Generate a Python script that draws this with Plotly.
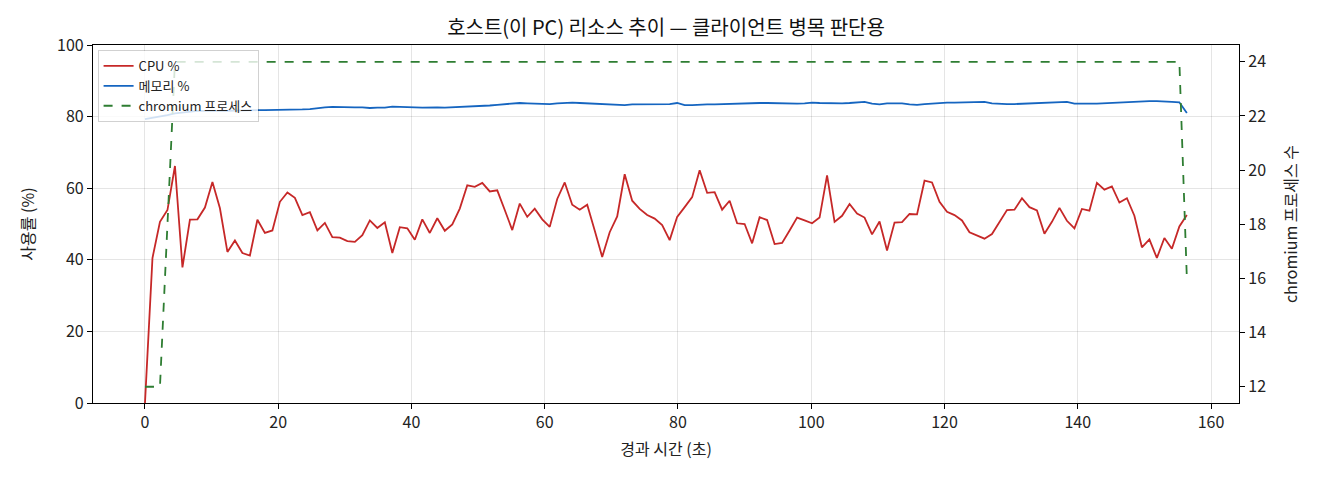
import plotly.graph_objects as go

# samples taken roughly every 1.125 s
SAMPLE_STEP = 1.125
elapsed = [round(i * SAMPLE_STEP, 3) for i in range(140)]

cpu_pct = [
    0, 40.5, 50.6, 53.9, 66.2, 37.9, 51.2, 51.3, 54.6, 61.7,
    54.4, 42.2, 45.4, 41.9, 41.2, 51.2, 47.5, 48.2, 56.2, 58.8,
    57.3, 52.5, 53.3, 48.2, 50.3, 46.3, 46.2, 45.2, 45.0, 46.9,
    51.0, 48.9, 50.5, 41.9, 49.1, 48.8, 45.6, 51.3, 47.5, 51.6,
    48.1, 49.9, 54.3, 60.8, 60.4, 61.5, 59.1, 59.4, 53.9, 48.3,
    55.7, 52.0, 54.3, 51.3, 49.2, 57.0, 61.6, 55.4, 54.0, 55.4,
    48.2, 40.8, 47.7, 52.1, 63.9, 56.5, 54.2, 52.5, 51.5, 49.7,
    45.5, 52.0, 54.7, 57.5, 65.0, 58.7, 58.9, 54.0, 56.5, 50.2,
    50.0, 44.6, 51.9, 51.1, 44.4, 44.7, 48.2, 51.8, 51.0, 50.2,
    51.8, 63.6, 50.6, 52.3, 55.6, 52.9, 51.8, 47.1, 50.7, 42.6,
    50.4, 50.5, 52.8, 52.7, 62.1, 61.6, 56.2, 53.4, 52.5, 51.0,
    47.7, 46.9, 45.9, 47.2, 50.6, 53.9, 54.0, 57.2, 54.7, 53.8,
    47.3, 50.6, 54.5, 50.9, 48.8, 54.2, 53.7, 61.5, 59.6, 60.5,
    56.0, 57.2, 52.3, 43.5, 45.7, 40.5, 46.1, 43.1, 49.3, 52.5,
]

mem_pct = [
    79.3, 79.6, 80.0, 80.4, 80.9, 81.2, 81.5, 81.6, 81.6, 81.5,
    81.6, 81.6, 81.7, 81.6, 81.7, 81.8, 81.8, 81.8, 81.9, 82.0,
    82.0, 82.0, 82.1, 82.4, 82.6, 82.7, 82.6, 82.6, 82.6, 82.6,
    82.4, 82.5, 82.5, 82.8, 82.8, 82.6, 82.6, 82.5, 82.6, 82.6,
    82.5, 82.6, 82.6, 82.6, 82.7, 82.9, 83.1, 83.3, 83.5, 83.8,
    83.8, 83.7, 83.6, 83.4, 83.5, 83.7, 83.9, 83.9, 83.8, 83.7,
    83.8, 83.7, 83.5, 83.5, 83.2, 83.4, 83.4, 83.4, 83.4, 83.4,
    83.5, 83.8, 83.2, 83.2, 83.4, 83.4, 83.4, 83.5, 83.5, 83.6,
    83.7, 83.8, 83.8, 83.8, 83.7, 83.6, 83.6, 83.6, 83.7, 83.9,
    83.8, 83.7, 83.8, 83.7, 83.8, 84.0, 84.1, 83.6, 83.4, 83.7,
    83.8, 83.7, 83.4, 83.3, 83.5, 83.7, 83.8, 83.9, 83.9, 84.0,
    84.1, 84.0, 84.1, 83.7, 83.5, 83.5, 83.5, 83.6, 83.6, 83.8,
    83.9, 83.8, 83.9, 84.1, 83.6, 83.5, 83.6, 83.6, 83.7, 83.8,
    84.0, 84.1, 84.3, 84.4, 84.3, 84.3, 84.1, 84.1, 84.0, 81.0,
]

chromium_procs = [12, 12, 12, 18] + [24] * 135 + [16]

FONT = "Noto Sans CJK KR"

fig = go.Figure()
fig.add_trace(go.Scatter(x=elapsed, y=cpu_pct, mode="lines", name="CPU %",
                         line=dict(color="#c62828", width=1.8)))
fig.add_trace(go.Scatter(x=elapsed, y=mem_pct, mode="lines", name="메모리 %",
                         line=dict(color="#1565c0", width=1.8)))
fig.add_trace(go.Scatter(x=elapsed, y=chromium_procs, mode="lines", name="chromium 프로세스",
                         yaxis="y2", line=dict(color="#2e7d32", width=1.8, dash="dash")))

axis_common = dict(showline=True, linecolor="black", linewidth=1.2, ticks="outside",
                   ticklen=5, tickcolor="black", tickfont=dict(size=16, color="#222"),
                   zeroline=False)

# the page adds an 8px body margin, so margins are shifted to compensate
fig.update_layout(
    width=1320, height=480,
    margin=dict(l=85, r=89, t=37, b=85),
    paper_bgcolor="white", plot_bgcolor="white",
    font=dict(family=FONT, color="#222"),
    title=dict(text="호스트(이 PC) 리소스 추이 — 클라이언트 병목 판단용",
               x=0.4985, xanchor="center", y=1 - 20 / 480, yanchor="middle",
               font=dict(size=20, color="#111")),
    xaxis=dict(range=[-7.8, 164.2], dtick=20, mirror=True, showgrid=True,
               gridcolor="rgba(0,0,0,0.1)",
               title=dict(text="경과 시간 (초)", font=dict(size=16), standoff=11),
               **axis_common),
    yaxis=dict(range=[0, 100], dtick=20, mirror=True, showgrid=True,
               gridcolor="rgba(0,0,0,0.1)",
               title=dict(text="사용률 (%)", font=dict(size=16), standoff=18),
               **axis_common),
    yaxis2=dict(range=[11.4, 24.62], dtick=2, overlaying="y", side="right",
                showgrid=False,
                title=dict(text="chromium 프로세스 수", font=dict(size=16), standoff=20),
                **axis_common),
    legend=dict(x=0.004, y=0.986, xanchor="left", yanchor="top",
                bgcolor="rgba(255,255,255,0.8)", bordercolor="rgba(0,0,0,0.18)",
                borderwidth=1, font=dict(size=13, color="#222"),
                itemwidth=30, tracegroupgap=0),
    showlegend=True,
)

fig.write_html("out.html")
